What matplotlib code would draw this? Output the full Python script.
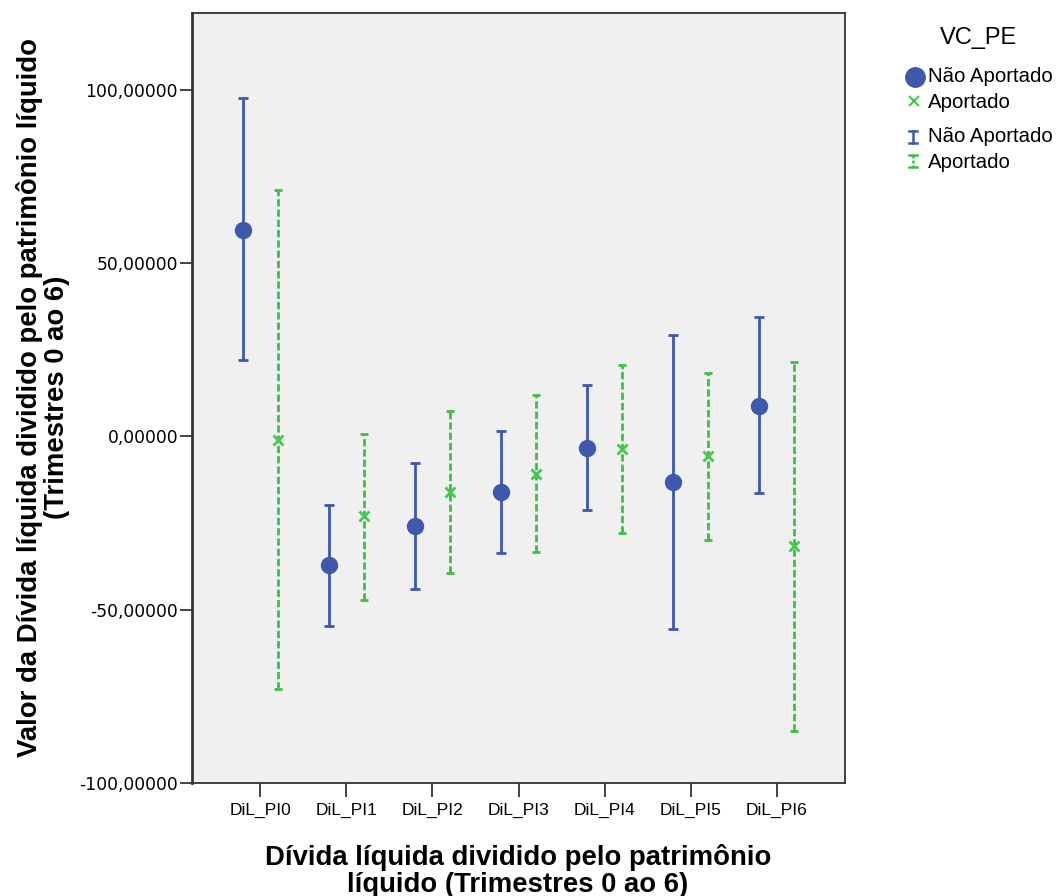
import numpy as np
import matplotlib
matplotlib.use("Agg")
import matplotlib.pyplot as plt
from matplotlib.lines import Line2D
from matplotlib.ticker import FuncFormatter, FixedLocator

# ---- data ----
categories = ["DiL_PI0", "DiL_PI1", "DiL_PI2", "DiL_PI3", "DiL_PI4", "DiL_PI5", "DiL_PI6"]
nao_mean = [59.7, -37.1, -25.9, -16.0, -3.3, -13.1, 8.9]
nao_lower = [22.2, -54.7, -44.0, -33.6, -21.3, -55.7, -16.3]
nao_upper = [97.8, -19.7, -7.8, 1.6, 14.9, 29.4, 34.5]
apo_mean = [-0.9, -23.0, -16.1, -10.8, -3.5, -5.7, -31.7]
apo_lower = [-73.0, -47.2, -39.5, -33.4, -27.8, -30.0, -84.9]
apo_upper = [71.0, 0.6, 7.3, 11.9, 20.5, 18.4, 21.6]
yticks = [-100, -50, 0, 50, 100]

BLUE = "#3E58AC"
GREEN = "#3DBF45"
GREEN_M = "#45C94F"
FONT = "Liberation Sans"

W, H = 1058, 896
fig = plt.figure(figsize=(W / 100, H / 100), dpi=100)
fx = lambda px: px / W
fy = lambda py: 1 - py / H

ax = fig.add_axes([fx(192), fy(783), (845 - 192) / W, (783 - 13) / H])
ax.set_facecolor("#F0F0F0")

x = np.arange(len(categories))
off = 0.203

nm = np.array(nao_mean); nl = np.array(nao_lower); nu = np.array(nao_upper)
am = np.array(apo_mean); al = np.array(apo_lower); au = np.array(apo_upper)

ax.errorbar(x - off, nm, yerr=[nm - nl, nu - nm], fmt="o", color=BLUE, ms=11.5,
            elinewidth=2, capsize=3.6, capthick=2, zorder=3)
eb = ax.errorbar(x + off, am, yerr=[am - al, au - am], fmt="none", ecolor=GREEN,
                 elinewidth=2, capsize=2.8, capthick=2, zorder=3)
eb[2][0].set_linestyle((0, (2.6, 1.1)))
ax.plot(x + off, am, "x", color=GREEN_M, ms=6.5, mew=2, zorder=4)

ax.set_xlim(-0.79, 6.79)
ax.set_ylim(-100, 122.2)
ax.xaxis.set_major_locator(FixedLocator(x))
ax.set_xticklabels(categories, fontsize=12.5, family=FONT)
ax.yaxis.set_major_locator(FixedLocator(yticks))
ax.yaxis.set_major_formatter(FuncFormatter(lambda v, p: f"{v:.5f}".replace(".", ",")))
for lab in ax.get_yticklabels():
    lab.set_family("DejaVu Sans")
ax.tick_params(axis="y", labelsize=12.3, length=9, width=1.2, color="#222222", pad=1)
ax.tick_params(axis="x", length=10, width=1.2, color="#222222", pad=4)
for s in ax.spines.values():
    s.set_color("#333333")
    s.set_linewidth(1.3)
ax.spines["left"].set_linewidth(2)

fig.text(fx(43), fy(397), "Valor da Dívida líquida dividido pelo patrimônio líquido\n(Trimestres 0 ao 6)",
         rotation=90, ha="center", va="center", multialignment="center",
         fontsize=19.8, fontweight="bold", family=FONT, linespacing=1.04)
fig.text(fx(518), fy(871), "Dívida líquida dividido pelo patrimônio\nlíquido (Trimestres 0 ao 6)",
         ha="center", va="center", multialignment="center",
         fontsize=19.8, fontweight="bold", family=FONT, linespacing=1.04)

# ---- legend ----
fig.text(fx(979), fy(38), "VC_PE", ha="center", va="center", fontsize=17, family=FONT)
fig.add_artist(Line2D([fx(915)], [fy(77)], marker="o", ms=14, color=BLUE, ls="none"))
fig.text(fx(928), fy(77), "Não Aportado", ha="left", va="center", fontsize=14.7, family=FONT)
fig.add_artist(Line2D([fx(914)], [fy(101)], marker="x", ms=7.5, mew=1.5, color=GREEN_M, ls="none"))
fig.text(fx(928), fy(102), "Aportado", ha="left", va="center", fontsize=14.7, family=FONT)
# errorbar glyphs
for yc, col, ls in [(137, BLUE, "-"), (161, GREEN, (0, (1.2, 0.8)))]:
    fig.add_artist(Line2D([fx(913), fx(913)], [fy(yc - 6), fy(yc + 6)], color=col, lw=1.8, ls=ls))
    for yy in (yc - 6, yc + 6):
        fig.add_artist(Line2D([fx(909), fx(917)], [fy(yy), fy(yy)], color=col, lw=1.8))
fig.text(fx(928), fy(137), "Não Aportado", ha="left", va="center", fontsize=14.7, family=FONT)
fig.text(fx(928), fy(162), "Aportado", ha="left", va="center", fontsize=14.7, family=FONT)

fig.savefig("out.png", dpi=100)
